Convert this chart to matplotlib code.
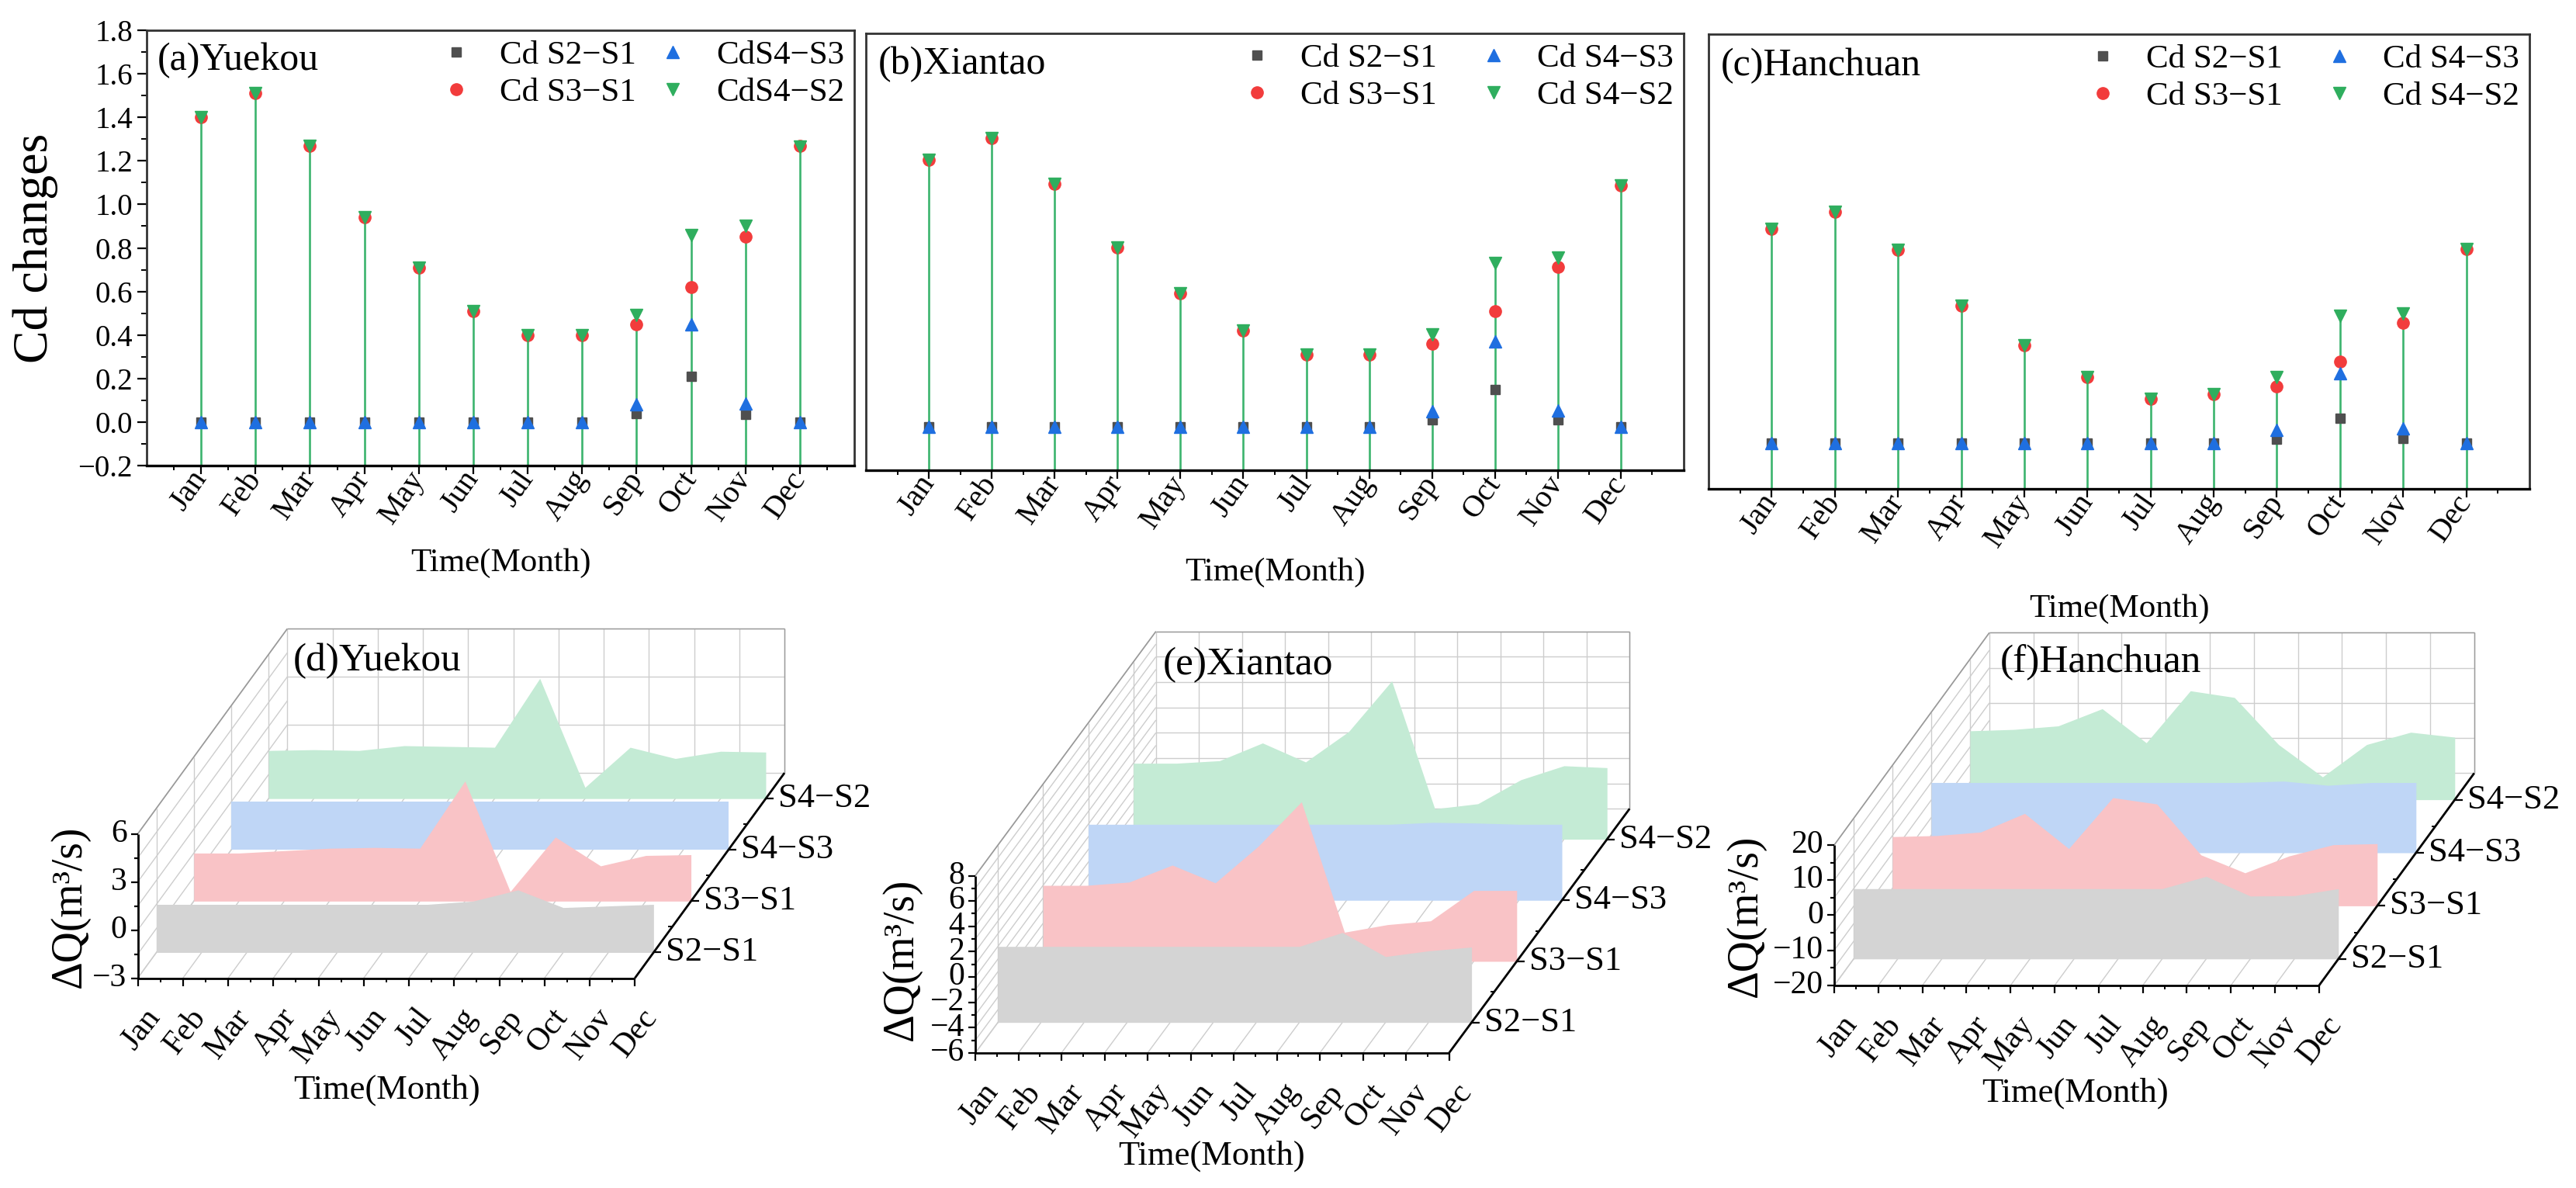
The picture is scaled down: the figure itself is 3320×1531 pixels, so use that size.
import numpy as np
import matplotlib
matplotlib.use("Agg")
import matplotlib.pyplot as plt
import matplotlib.transforms as mtransforms

plt.rcParams['font.family'] = ['Liberation Serif', 'DejaVu Serif']
plt.rcParams['axes.unicode_minus'] = True

months = ['Jan', 'Feb', 'Mar', 'Apr', 'May', 'Jun', 'Jul', 'Aug', 'Sep', 'Oct', 'Nov', 'Dec']
scenarios = ['S2−S1', 'S3−S1', 'S4−S3', 'S4−S2']

# Cd changes, panels (a)-(c)
yk_cd_s21 = [0, 0, 0, 0, 0, 0, 0, 0, 0.04, 0.21, 0.035, 0]
yk_cd_s31 = [1.40, 1.51, 1.27, 0.94, 0.71, 0.51, 0.40, 0.40, 0.45, 0.62, 0.85, 1.27]
yk_cd_s43 = [0, 0, 0, 0, 0, 0, 0, 0, 0.08, 0.45, 0.085, 0]
yk_cd_s42 = [1.40, 1.51, 1.27, 0.94, 0.71, 0.51, 0.40, 0.40, 0.49, 0.86, 0.90, 1.265]

xt_cd_s21 = [0, 0, 0, 0, 0, 0, 0, 0, 0.03, 0.17, 0.03, 0]
xt_cd_s31 = [1.22, 1.32, 1.11, 0.82, 0.61, 0.44, 0.33, 0.33, 0.38, 0.53, 0.73, 1.105]
xt_cd_s43 = [0, 0, 0, 0, 0, 0, 0, 0, 0.07, 0.39, 0.075, 0]
xt_cd_s42 = [1.22, 1.32, 1.11, 0.82, 0.61, 0.44, 0.33, 0.33, 0.42, 0.75, 0.775, 1.105]

hc_cd_s21 = [0, 0, 0, 0, 0, 0, 0, 0, 0.02, 0.11, 0.023, 0]
hc_cd_s31 = [0.945, 1.02, 0.85, 0.605, 0.43, 0.29, 0.195, 0.215, 0.25, 0.36, 0.53, 0.855]
hc_cd_s43 = [0, 0, 0, 0, 0, 0, 0, 0, 0.06, 0.31, 0.065, 0]
hc_cd_s42 = [0.945, 1.02, 0.85, 0.605, 0.43, 0.29, 0.195, 0.215, 0.29, 0.56, 0.57, 0.855]

# discharge changes dQ (m3/s), panels (d)-(f)
yk_dq_s21 = [0, 0, 0, 0, 0, 0, 0, 0.2, 0.9, -0.2, -0.1, 0]
yk_dq_s31 = [0, 0, 0.15, 0.3, 0.35, 0.3, 4.5, -2.4, 1.0, -0.8, -0.15, -0.1]
yk_dq_s43 = [0, 0, 0, 0, 0, 0, 0, 0, 0, 0, 0, 0]
yk_dq_s42 = [0, 0.05, 0, 0.3, 0.25, 0.2, 4.5, -2.3, 0.2, -0.5, -0.05, -0.1]

xt_dq_s21 = [0, 0, 0, 0, 0, 0, 0, 0, 1.1, -0.8, -0.35, -0.05]
xt_dq_s31 = [0, 0, 0.26, 1.6, 0.2, 3.1, 6.6, -3.7, -3.1, -2.8, -0.4, -0.4]
xt_dq_s43 = [0, 0, 0, 0, 0, 0, 0, 0, 0.15, 0.1, 0, 0]
xt_dq_s42 = [0, 0, 0.2, 1.6, 0.1, 2.5, 6.5, -3.6, -3.2, -1.3, -0.2, -0.35]

hc_dq_s21 = [0, 0, 0, 0, 0, 0, 0, 0, 3.5, -2.1, -2.0, 0]
hc_dq_s31 = [-0.3, 0, 1.0, 6.3, -3.7, 10.8, 9.0, -5.5, -10.6, -5.8, -2.6, -2.3]
hc_dq_s43 = [0, 0, 0, 0, 0, 0, 0, 0, 0.4, -0.8, 0, 0]
hc_dq_s42 = [-0.4, 0, 1.0, 5.9, -3.8, 11.0, 9.1, -4.3, -13.5, -4.3, -0.8, -2.2]

W, H = 3320, 1531
fig = plt.figure(figsize=(W / 100, H / 100), dpi=100)


def fmt(v, nd):
    s = f'{v:.{nd}f}'
    if float(s) == 0:
        s = s.lstrip('-')
    return s.replace('-', '−')


def cd_panel(box, s21, s31, s43, s42, title, labels, first, colsp, xlab_y):
    L, T, R, B = box
    ax = fig.add_axes([L / W, 1 - B / H, (R - L) / W, (B - T) / H])
    x = np.arange(1, 13)
    ax.vlines(x, -0.2, s42, colors='#3cb46e', lw=1.9, zorder=2)
    ax.plot(x, s21, ls='none', marker='s', ms=8.5, color='#4f4f4f', label=labels[0], zorder=3)
    ax.plot(x, s31, ls='none', marker='o', ms=11, color='#f23c3c', label=labels[1], zorder=4)
    ax.plot(x, s43, ls='none', marker='^', ms=12, color='#1f6fe0', label=labels[2], zorder=5)
    ax.plot(x, s42, ls='none', marker='v', ms=12, color='#2fae5e', label=labels[3], zorder=6)
    ax.set_xlim(0, 13)
    ax.set_ylim(-0.2, 1.8)
    ax.set_xticks(x, months, fontsize=29, rotation=55, ha='right', va='center',
                  rotation_mode='anchor')
    ax.set_xticks(np.arange(0.5, 13, 1), minor=True)
    off = mtransforms.ScaledTranslation(0.30, -0.22, fig.dpi_scale_trans)
    for lab in ax.get_xticklabels():
        lab.set_transform(lab.get_transform() + off)
    ax.tick_params(axis='x', which='major', direction='out', length=8, width=1.6, pad=0)
    ax.tick_params(axis='x', which='minor', direction='out', length=4, width=1.4)
    if first:
        yt = np.round(np.arange(-0.2, 1.81, 0.2), 1)
        ax.set_yticks(yt, [fmt(v, 1) for v in yt], fontsize=28)
        ax.set_yticks(np.round(np.arange(-0.1, 1.8, 0.2), 1), minor=True)
        ax.tick_params(axis='y', which='major', direction='out', length=9, width=1.6, pad=4)
        ax.tick_params(axis='y', which='minor', direction='out', length=5, width=1.4)
        ax.set_ylabel('Cd changes', fontsize=46)
        ax.yaxis.set_label_coords(-0.125, 0.5)
    else:
        ax.tick_params(axis='y', which='both', left=False, labelleft=False)
    for side in ['top', 'right', 'left']:
        ax.spines[side].set_linewidth(2.0)
        ax.spines[side].set_color('#333333')
    ax.spines['bottom'].set_linewidth(2.4)
    ax.spines['bottom'].set_color('black')
    ax.set_xlabel('Time(Month)', fontsize=31)
    ax.xaxis.set_label_coords(0.5, xlab_y)
    ax.text(0.015, 0.93, title, transform=ax.transAxes, fontsize=36, ha='left', va='center')
    ax.legend(ncol=2, loc='upper right', frameon=False, fontsize=31, handlelength=1.0,
              handletextpad=0.8, columnspacing=colsp, labelspacing=0.2,
              borderaxespad=0.1, borderpad=0.2)
    return ax


cd_panel((189, 39, 1101, 600), yk_cd_s21, yk_cd_s31, yk_cd_s43, yk_cd_s42, '(a)Yuekou',
         ['Cd S2−S1', 'Cd S3−S1', 'CdS4−S3', 'CdS4−S2'], True, 0.6, -0.19)
cd_panel((1116, 43, 2170, 606), xt_cd_s21, xt_cd_s31, xt_cd_s43, xt_cd_s42, '(b)Xiantao',
         ['Cd S2−S1', 'Cd S3−S1', 'Cd S4−S3', 'Cd S4−S2'], False, 1.2, -0.2)
cd_panel((2202, 44, 3260, 630), hc_cd_s21, hc_cd_s31, hc_cd_s43, hc_cd_s42, '(c)Hanchuan',
         ['Cd S2−S1', 'Cd S3−S1', 'Cd S4−S3', 'Cd S4−S2'], False, 1.2, -0.232)

fill_colors = ['#d4d4d4', '#f9c3c6', '#bfd6f6', '#c4ebd5']
grid_c = '#cdcdcd'
edge_c = '#9a9a9a'


def dq_panel(box, geo, zlim, zstep, zminor, vals, title, title_xy, ylab_xy, xlab_xy):
    L, T, R, B = box
    X0, Y0, mx, mz, dpx, dpy = geo
    zmin, zmax = zlim
    ax = fig.add_axes([L / W, 1 - B / H, (R - L) / W, (B - T) / H])
    ax.axis('off')
    kx, kz = dpx / mx, dpy / mz

    def P(xv, zv, d):
        return xv + kx * (d + 0.5), zv + kz * (d + 0.5)

    def seg(p1, p2, **kw):
        ax.plot([p1[0], p2[0]], [p1[1], p2[1]], clip_on=False, solid_capstyle='butt', **kw)

    idx = np.arange(12)
    zmaj = np.arange(zmin, zmax + 1e-9, zstep)
    zall = np.arange(zmin, zmax + 1e-9, zminor)

    # back wall
    for i in idx:
        seg(P(i, zmin, 3.5), P(i, zmax, 3.5), color=grid_c, lw=1.0, zorder=1)
    for z in zmaj:
        seg(P(0, z, 3.5), P(11, z, 3.5), color=grid_c, lw=1.0, zorder=1)
    seg(P(0, zmax, 3.5), P(11, zmax, 3.5), color=edge_c, lw=1.0, zorder=1)
    seg(P(11, zmin, 3.5), P(11, zmax, 3.5), color=edge_c, lw=1.0, zorder=1)
    # left wall
    for z in zall:
        seg(P(0, z, -0.5), P(0, z, 3.5), color=grid_c, lw=1.0, zorder=1)
    for d in range(4):
        seg(P(0, zmin, d), P(0, zmax, d), color=grid_c, lw=1.0, zorder=1)
    seg(P(0, zmax, -0.5), P(0, zmax, 3.5), color=edge_c, lw=1.2, zorder=1)
    # floor
    for i in idx:
        seg(P(i, zmin, -0.5), P(i, zmin, 3.5), color=grid_c, lw=1.0, zorder=1)

    # areas, back to front
    for d in [3, 2, 1, 0]:
        tr = mtransforms.Affine2D().translate(kx * (d + 0.5), kz * (d + 0.5)) + ax.transData
        ax.fill_between(idx, zmin, vals[d], color=fill_colors[d], lw=0, transform=tr,
                        zorder=2 + (3 - d), clip_on=False)

    # front axes
    kk = dict(color='black', lw=2.0, zorder=9)
    seg((0, zmin), (0, zmax), **kk)
    seg((0, zmin), (11, zmin), **kk)
    seg(P(11, zmin, -0.5), P(11, zmin, 3.5), **kk)
    for z in zall:
        r = ((z - zmin) / zstep) % 1
        major = np.isclose(r, 0) or np.isclose(r, 1)
        seg((0, z), (-(9 if major else 5) / mx, z), color='black', lw=1.6, zorder=9)
        if major:
            ax.text(-14 / mx, z, fmt(z, 0), ha='right', va='center', fontsize=30)
    for i in idx:
        seg((i, zmin), (i, zmin - 10 / mz), color='black', lw=1.6, zorder=9)
        ax.text(i + 22 / mx, zmin - 44 / mz, months[i], rotation=52, ha='right', va='center',
                rotation_mode='anchor', fontsize=30)
    for i in idx[:-1] + 0.5:
        seg((i, zmin), (i, zmin - 5 / mz), color='black', lw=1.4, zorder=9)
    for d in range(4):
        xd, zd = P(11, zmin, d)
        seg((xd, zd), (xd + 10 / mx, zd), color='black', lw=1.6, zorder=9)
        ax.text(xd + 16 / mx, zd, scenarios[d], ha='left', va='center', fontsize=32)
    for d in [0.5, 1.5, 2.5]:
        xd, zd = P(11, zmin, d)
        seg((xd - 5 / mx, zd), (xd, zd), color='black', lw=1.4, zorder=9)

    ax.set_xlim((L - X0) / mx, (R - X0) / mx)
    ax.set_ylim(zmin - (B - Y0) / mz, zmin + (Y0 - T) / mz)

    fig.text(title_xy[0] / W, 1 - title_xy[1] / H, title, fontsize=37, ha='left', va='center')
    fig.text(ylab_xy[0] / W, 1 - ylab_xy[1] / H, 'ΔQ(m³/s)', fontsize=40, rotation=90,
             ha='center', va='center')
    fig.text(xlab_xy[0] / W, 1 - xlab_xy[1] / H, 'Time(Month)', fontsize=32,
             ha='center', va='center')


dq_panel((0, 780, 1100, 1531), (177.5, 1260.5, 58.25, 20.65, 48.2, 66.1), (-3, 6), 3, 1.5,
         [yk_dq_s21, yk_dq_s31, yk_dq_s43, yk_dq_s42], '(d)Yuekou',
         (378, 852), (90, 1168), (499, 1405))
dq_panel((1100, 780, 2190, 1531), (1257, 1357, 55.5, 16.32, 58.2, 78.7), (-6, 8), 2, 1,
         [xt_dq_s21, xt_dq_s31, xt_dq_s43, xt_dq_s42], '(e)Xiantao',
         (1499, 857), (1162, 1236), (1562, 1490))
dq_panel((2190, 780, 3320, 1531), (2364, 1270, 56.8, 4.527, 50, 68.4), (-20, 20), 10, 5,
         [hc_dq_s21, hc_dq_s31, hc_dq_s43, hc_dq_s42], '(f)Hanchuan',
         (2578, 854), (2250, 1180), (2675, 1409))

fig.savefig('out.png', dpi=100)
